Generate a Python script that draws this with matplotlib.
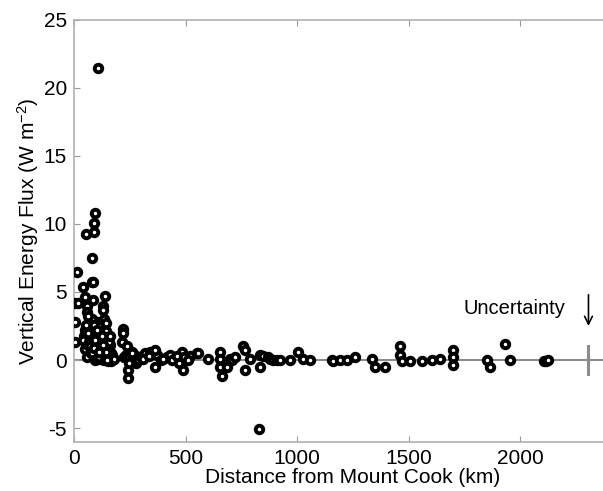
import numpy as np
import matplotlib.pyplot as plt

plt.rcParams['axes.unicode_minus'] = False
plt.rcParams['mathtext.fontset'] = 'custom'
plt.rcParams['mathtext.rm'] = 'Liberation Sans'
plt.rcParams['mathtext.it'] = 'Liberation Sans:italic'

# distance from Mount Cook (km) and vertical energy flux (W m^-2)
dist = [108, 94, 91, 90, 54, 82, 15, 79, 85, 40, 5, 18, 49, 57, 57, 87, 139, 131, 131,
        5, 5, 49, 72, 101, 60, 65, 70, 75, 80, 88, 95, 100, 105, 110, 115, 120, 125,
        130, 135, 140, 145, 150, 155, 160, 165, 170, 60, 70, 80, 90, 100, 110, 120,
        130, 140, 150, 160, 70, 85, 95, 105, 115, 125, 135, 145, 155, 165, 175,
        45, 55, 65, 75, 85, 95, 105, 115, 125, 135, 145, 40, 50, 62, 78, 92, 108,
        122, 138, 152, 168, 180,
        68, 76, 84, 98, 112, 118, 128, 142, 148, 158, 64, 88, 102, 116, 134, 146,
        72, 96, 112, 126, 138, 156, 82, 104, 124, 143, 90, 110, 132, 150,
        161, 219, 219, 213, 236, 260, 242, 242, 225, 250, 270, 280, 255, 265,
        232, 248, 262, 276, 290, 245, 258, 285,
        300, 320, 340, 371, 363, 363, 390, 416, 430, 450, 470, 483, 488, 500, 520,
        310, 335, 400, 440, 460, 495, 510,
        551, 556, 600, 654, 654, 663, 654, 685, 699, 708, 720, 757, 766, 766,
        790, 833, 833, 830, 847, 870, 878, 893, 909, 923, 968, 1003, 1026, 1057,
        1156, 1160, 1192, 1222, 1259, 1335, 1348, 1393, 1461, 1461, 1470, 1505,
        1559, 1604, 1640, 1698, 1698, 1698, 1850, 1864, 1931, 1953, 2105, 2115, 2125]
flux = [21.5, 10.8, 10.1, 9.4, 9.3, 7.5, 6.5, 5.7, 5.7, 5.4, 4.2, 4.2, 4.6, 4.0, 3.5, 4.4, 4.7, 4.0, 3.7,
        2.8, 1.3, 2.2, 2.8, 2.8, 1.0, 0.6, 1.6, 0.3, 2.0, 1.2, 0.8, 1.8, 0.5, 1.4, 0.2, 1.0, 2.2,
        0.7, 3.0, 0.1, 1.5, 0.6, 0.0, 1.1, -0.1, 0.4, 0.2, 2.4, 3.0, 0.4, 1.1, 2.5, 0.1,
        1.7, 0.3, 0.9, 0.2, 1.5, 2.0, 0.0, 0.6, 1.2, 0.3, 0.8, 1.9, 0.2, 0.5, 0.1,
        1.8, 2.6, 3.2, 1.6, 0.9, 2.3, 0.1, 0.5, 1.4, 0.0, 2.7, 1.5, 0.8, 1.1, 0.5, 0.2, 0.8,
        0.1, 0.5, -0.1, 0.3, 0.1,
        1.3, 0.7, 1.6, 0.9, 1.9, 0.4, 1.3, 2.1, 0.9, 0.5, 2.0, 2.6, 1.4, 1.7, 0.3, 1.0,
        1.0, 1.5, 0.2, 0.5, 1.7, 1.3, 0.5, 2.2, 1.8, 0.6, 0.9, 0.6, 1.1, 0.0,
        1.8, 2.3, 2.0, 1.3, 1.0, 0.6, -0.7, -1.3, 0.2, 0.0, 0.3, -0.2, 0.4, 0.1,
        0.4, 0.2, 0.0, 0.3, 0.1, -0.2, 0.5, 0.0,
        0.2, 0.5, 0.6, 0.4, 0.7, -0.5, 0.0, 0.2, 0.4, 0.1, -0.2, 0.6, -0.7, 0.0, 0.3,
        0.1, 0.3, 0.1, 0.0, 0.3, 0.2, 0.0,
        0.5, 0.5, 0.1, 0.6, -0.5, -1.2, 0.1, -0.5, 0.1, 0.0, 0.2, 1.0, 0.7, -0.7,
        0.1, 0.4, -0.5, -5.1, 0.3, 0.2, 0.1, 0.0, 0.0, 0.0, 0.0, 0.6, 0.1, 0.0,
        0.0, -0.1, 0.0, 0.0, 0.2, 0.1, -0.5, -0.5, 1.0, 0.4, -0.1, -0.1,
        -0.1, 0.0, 0.1, 0.7, 0.2, -0.4, 0.0, -0.5, 1.2, 0.0, -0.1, -0.1, 0.0]

# uncertainty bar
unc_x = 2305
unc_half = 1.0

fig = plt.figure(figsize=(6.03, 4.91), dpi=100)
ax = fig.add_axes([0.1227, 0.1006, 0.9254, 0.8587])

ax.axhline(0, color='#8c8c8c', lw=1.5, zorder=1)
ax.plot(dist, flux, 'o', ms=5.4, mfc='white', mec='black', mew=2.8, zorder=3)
ax.plot([unc_x, unc_x], [-unc_half, unc_half], color='#8c8c8c', lw=2.2, zorder=2)

ax.text(1745, 3.8, 'Uncertainty', fontsize=14.5, va='center', ha='left',
        family='Liberation Sans')
ax.annotate('', xy=(unc_x, 2.3), xytext=(unc_x, 5.0),
            arrowprops=dict(arrowstyle='->', color='black', lw=1.2, mutation_scale=14))

ax.set_xlim(0, 2500)
ax.set_ylim(-6, 25)
ax.set_xticks([0, 500, 1000, 1500, 2000])
ax.set_yticks([-5, 0, 5, 10, 15, 20, 25])
ax.set_xlabel('Distance from Mount Cook (km)', fontsize=15, family='Liberation Sans', labelpad=0)
ax.set_ylabel('Vertical Energy Flux (W m$^{-2}$)', fontsize=15, family='Liberation Sans', labelpad=2)

for s in ax.spines.values():
    s.set_color('#b0b0b0')
    s.set_linewidth(1.2)
ax.tick_params(direction='in', length=4, color='#999999', top=True, right=False,
               labelsize=15, pad=5)
for lab in ax.get_xticklabels() + ax.get_yticklabels():
    lab.set_family('Liberation Sans')

fig.savefig('out.png', dpi=100)
